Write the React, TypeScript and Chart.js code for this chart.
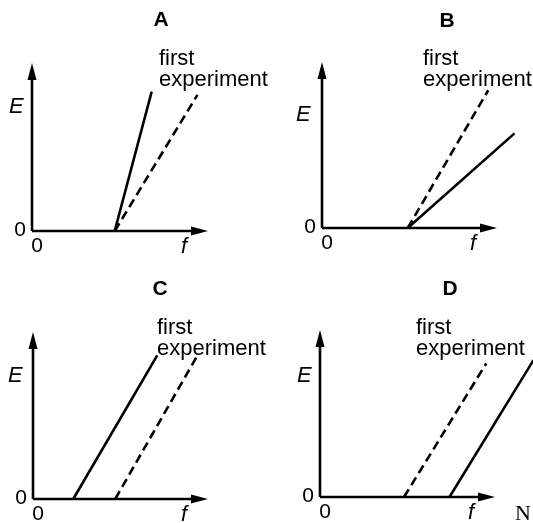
import React, { useEffect, useRef } from "react";
import { Chart, registerables } from "chart.js";

Chart.register(...registerables);

const W = 533;
const H = 523;

// Panel titles
const panelNames = ["A", "B", "C", "D"];
const legendLines = ["first", "experiment"];
const axisNames = { y: "E", x: "f", zero: "0" };

// Series values (f, E) in axis units (arrow tip = 10)
const firstA = [{ x: 4.7, y: 0 }, { x: 9.4, y: 8.1 }];
const secondA = [{ x: 4.7, y: 0 }, { x: 6.8, y: 8.3 }];
const firstB = [{ x: 4.9, y: 0 }, { x: 9.5, y: 8.3 }];
const secondB = [{ x: 4.9, y: 0 }, { x: 11.0, y: 5.7 }];
const firstC = [{ x: 4.7, y: 0 }, { x: 9.4, y: 8.6 }];
const secondC = [{ x: 2.3, y: 0 }, { x: 7.1, y: 8.6 }];
const firstD = [{ x: 4.8, y: 0 }, { x: 9.5, y: 8.0 }];
const secondD = [{ x: 7.4, y: 0 }, { x: 12.2, y: 8.2 }];

const firstSeries = [firstA, firstB, firstC, firstD];
const secondSeries = [secondA, secondB, secondC, secondD];

// Layout (pixel frames of each small chart and its labels)
const frames = [
  { ax: 32, ay: 231, tx: 208, ty: 63, title: [161, 26], legend: [159, 65], e: [9, 113] },
  { ax: 322, ay: 228, tx: 497, ty: 62, title: [447, 27], legend: [423, 65], e: [296, 121] },
  { ax: 33, ay: 499, tx: 208, ty: 332, title: [160, 295], legend: [157, 334], e: [8, 382] },
  { ax: 320, ay: 497, tx: 495, ty: 330, title: [450, 295], legend: [416, 334], e: [297, 382] },
];

const SANS = '"Liberation Sans", Arial, sans-serif';

function makePlugin(i: number) {
  const f = frames[i];
  return {
    id: "panelDecor" + i,
    beforeDatasetsDraw(chart: any) {
      const ctx = chart.ctx;
      const xs = chart.scales.x;
      const ys = chart.scales.y;
      const x0 = xs.getPixelForValue(0);
      const y0 = ys.getPixelForValue(0);
      const xEnd = xs.getPixelForValue(10);
      const yEnd = ys.getPixelForValue(10);
      ctx.save();
      ctx.strokeStyle = "#000";
      ctx.fillStyle = "#000";
      ctx.lineWidth = 2.6;
      ctx.beginPath();
      ctx.moveTo(x0, y0);
      ctx.lineTo(xEnd - 10, y0);
      ctx.moveTo(x0, y0);
      ctx.lineTo(x0, yEnd + 10);
      ctx.stroke();
      // arrowheads
      ctx.beginPath();
      ctx.moveTo(xEnd, y0);
      ctx.lineTo(xEnd - 17, y0 - 4.5);
      ctx.lineTo(xEnd - 17, y0 + 4.5);
      ctx.closePath();
      ctx.fill();
      ctx.beginPath();
      ctx.moveTo(x0, yEnd);
      ctx.lineTo(x0 - 4.5, yEnd + 17);
      ctx.lineTo(x0 + 4.5, yEnd + 17);
      ctx.closePath();
      ctx.fill();
      ctx.restore();
    },
    afterDraw(chart: any) {
      const ctx = chart.ctx;
      const xs = chart.scales.x;
      const ys = chart.scales.y;
      const x0 = xs.getPixelForValue(0);
      const y0 = ys.getPixelForValue(0);
      const xEnd = xs.getPixelForValue(10);
      ctx.save();
      ctx.fillStyle = "#000";
      ctx.textBaseline = "alphabetic";
      // title
      ctx.font = "bold 21px " + SANS;
      ctx.textAlign = "center";
      ctx.fillText(panelNames[i], f.title[0], f.title[1]);
      // legend
      ctx.font = "22px " + SANS;
      ctx.textAlign = "left";
      ctx.fillText(legendLines[0], f.legend[0], f.legend[1]);
      ctx.fillText(legendLines[1], f.legend[0], f.legend[1] + 21);
      // E
      ctx.font = "italic 22px " + SANS;
      ctx.fillText(axisNames.y, f.e[0], f.e[1]);
      // zeros
      ctx.font = "21px " + SANS;
      ctx.textAlign = "right";
      ctx.fillText(axisNames.zero, x0 - 6, y0 + 5);
      ctx.textAlign = "center";
      ctx.fillText(axisNames.zero, x0 + 5, y0 + 21);
      // f
      ctx.font = "italic 22px " + SANS;
      ctx.fillText(axisNames.x, xEnd - 24, y0 + 22);
      if (i === 3) {
        ctx.font = '22px "Liberation Serif", serif';
        ctx.textAlign = "left";
        ctx.fillText("N", 515, 520);
      }
      ctx.restore();
    },
  };
}

function Panel({ index }: { index: number }) {
  const ref = useRef<HTMLCanvasElement | null>(null);
  useEffect(() => {
    if (!ref.current) return;
    const f = frames[index];
    const chart = new Chart(ref.current, {
      type: "scatter",
      data: {
        datasets: [
          {
            label: "first experiment",
            data: firstSeries[index],
            showLine: true,
            borderColor: "#000",
            borderWidth: 2.6,
            borderDash: [9, 5],
            pointRadius: 0,
            clip: false,
          } as any,
          {
            label: "second experiment",
            data: secondSeries[index],
            showLine: true,
            borderColor: "#000",
            borderWidth: 2.6,
            pointRadius: 0,
            clip: false,
          } as any,
        ],
      },
      options: {
        animation: false,
        responsive: false,
        events: [],
        layout: {
          padding: { left: f.ax, top: f.ty, right: W - f.tx, bottom: H - f.ay },
        },
        scales: {
          x: { type: "linear", min: 0, max: 10, display: false },
          y: { type: "linear", min: 0, max: 10, display: false },
        },
        plugins: {
          legend: { display: false },
          tooltip: { enabled: false },
          title: { display: false },
        },
      },
      plugins: [makePlugin(index)],
    });
    return () => chart.destroy();
  }, [index]);
  return (
    <canvas
      ref={ref}
      width={W}
      height={H}
      style={{ position: "absolute", left: 0, top: 0, width: W, height: H }}
    />
  );
}

export default function App() {
  return (
    <div
      style={{
        position: "absolute",
        left: 0,
        top: 0,
        width: W,
        height: H,
        background: "#fff",
        overflow: "hidden",
      }}
    >
      {panelNames.map((_, i) => (
        <Panel key={i} index={i} />
      ))}
    </div>
  );
}
